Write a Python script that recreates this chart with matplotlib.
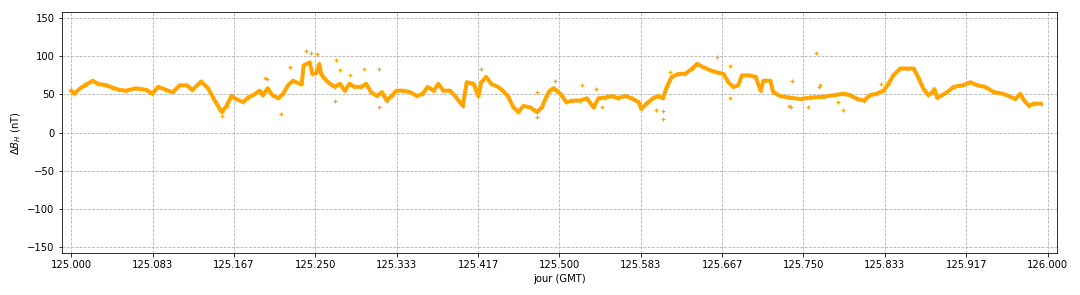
import matplotlib.pyplot as plt
import numpy as np

# trace of Delta B_H, time in day fraction after day 125
t_frac = [0.000, 0.003, 0.008, 0.015, 0.022, 0.027, 0.036, 0.042, 0.049, 0.056,
          0.066, 0.077, 0.083, 0.089, 0.097, 0.104, 0.111, 0.118, 0.124, 0.133,
          0.140, 0.147, 0.152, 0.154, 0.159, 0.164, 0.169, 0.176, 0.181, 0.186,
          0.193, 0.196, 0.201, 0.206, 0.212, 0.217, 0.222, 0.227, 0.234, 0.236,
          0.238, 0.244, 0.247, 0.251, 0.254, 0.256, 0.259, 0.265, 0.270, 0.275,
          0.280, 0.285, 0.290, 0.297, 0.302, 0.307, 0.313, 0.318, 0.323, 0.328,
          0.333, 0.340, 0.347, 0.354, 0.360, 0.365, 0.371, 0.376, 0.381, 0.388,
          0.393, 0.398, 0.401, 0.405, 0.412, 0.417, 0.420, 0.425, 0.430, 0.437,
          0.442, 0.447, 0.453, 0.458, 0.463, 0.470, 0.477, 0.482, 0.487, 0.490,
          0.494, 0.501, 0.507, 0.514, 0.521, 0.528, 0.535, 0.540, 0.547, 0.554,
          0.560, 0.567, 0.574, 0.581, 0.584, 0.589, 0.596, 0.601, 0.606, 0.610,
          0.615, 0.622, 0.629, 0.636, 0.641, 0.647, 0.654, 0.661, 0.668, 0.673,
          0.678, 0.683, 0.687, 0.694, 0.701, 0.706, 0.709, 0.716, 0.719, 0.726,
          0.735, 0.747, 0.757, 0.771, 0.781, 0.791, 0.798, 0.805, 0.812, 0.818,
          0.825, 0.832, 0.837, 0.842, 0.849, 0.856, 0.863, 0.868, 0.873, 0.878,
          0.882, 0.884, 0.887, 0.892, 0.897, 0.904, 0.913, 0.921, 0.928, 0.936,
          0.945, 0.954, 0.962, 0.967, 0.972, 0.976, 0.981, 0.986, 0.993]
dbh = [55, 51, 57, 63, 68, 64, 62, 59, 56, 55,
       58, 56, 51, 60, 56, 53, 62, 62, 56, 67,
       58, 42, 31, 27, 35, 48, 44, 40, 46, 49,
       55, 49, 58, 49, 45, 51, 62, 68, 64, 64,
       88, 92, 77, 78, 90, 77, 71, 64, 60, 64,
       55, 64, 60, 60, 64, 53, 48, 53, 42, 48,
       55, 55, 53, 48, 51, 60, 55, 64, 55, 55,
       48, 40, 35, 66, 64, 48, 66, 73, 64, 60,
       55, 48, 33, 27, 35, 33, 27, 33, 48, 55,
       58, 51, 40, 42, 42, 45, 33, 45, 46, 48,
       45, 48, 45, 40, 31, 38, 45, 48, 45, 60,
       73, 77, 77, 84, 90, 86, 82, 79, 77, 66,
       60, 62, 75, 75, 73, 55, 68, 68, 53, 48,
       46, 44, 46, 47, 49, 51, 49, 44, 42, 49,
       51, 55, 64, 75, 84, 84, 84, 71, 57, 49,
       53, 57, 46, 49, 53, 60, 62, 66, 62, 60,
       53, 51, 47, 44, 51, 42, 35, 38, 38]

# isolated scattered samples
out_t = [0.154, 0.198, 0.200, 0.215, 0.224, 0.240, 0.246, 0.252, 0.270, 0.271,
         0.275, 0.285, 0.300, 0.315, 0.315, 0.420, 0.477, 0.477, 0.495, 0.523,
         0.537, 0.544, 0.599, 0.606, 0.606, 0.613, 0.661, 0.675, 0.675, 0.735,
         0.738, 0.737, 0.763, 0.766, 0.767, 0.790, 0.785, 0.829, 0.755]
out_v = [22, 72, 70, 25, 86, 107, 104, 103, 42, 95,
         82, 75, 84, 84, 33, 84, 53, 20, 68, 62,
         57, 33, 29, 18, 28, 79, 99, 87, 46, 35,
         68, 34, 104, 60, 62, 30, 40, 64, 33]

x = 125 + np.array(t_frac)
xo = 125 + np.array(out_t)
ticks = 125 + np.arange(13) / 12

fig = plt.figure(figsize=(15, 295 / 72), dpi=72)
ax = fig.add_axes([0.057, 0.142, 0.922, 0.817])
ax.plot(x, dbh, color='orange', lw=4, marker='+', ms=4, mew=1.2, zorder=3)
ax.plot(xo, out_v, '+', color='orange', ms=4, mew=1.2, zorder=3)
ax.set_xlim(124.99, 126.01)
ax.set_ylim(-158, 158)
ax.set_xticks(ticks)
ax.set_xticklabels(['%.3f' % v for v in ticks])
ax.set_yticks([-150, -100, -50, 0, 50, 100, 150])
ax.grid(True, linestyle='--')
ax.set_xlabel('jour (GMT)')
ax.set_ylabel(r'$\Delta B_H$ (nT)')

fig.savefig('out.png', dpi=72)
